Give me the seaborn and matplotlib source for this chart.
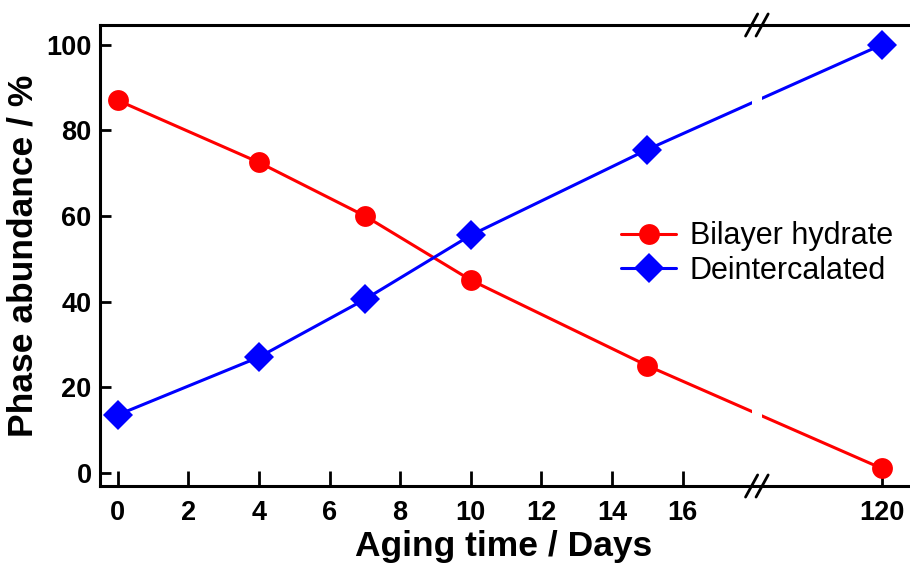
import numpy as np
import pandas as pd
import matplotlib
matplotlib.use("Agg")
import matplotlib.pyplot as plt
import seaborn as sns

# Aging time (days) and phase abundance (%)
days = [0, 4, 7, 10, 15, 120]
bilayer_hydrate = [87, 72.5, 60, 45, 25, 1]
deintercalated = [13.5, 27, 40.5, 55.5, 75.5, 100]
phases = ["Bilayer hydrate", "Deintercalated"]
x_ticks = [0, 2, 4, 6, 8, 10, 12, 14, 16, 120]
y_ticks = [0, 20, 40, 60, 80, 100]

df = pd.DataFrame({
    "day": days * 2,
    "abundance": bilayer_hydrate + deintercalated,
    "phase": [phases[0]] * len(days) + [phases[1]] * len(days),
})

sns.set_theme(style="ticks")
plt.rcParams["font.family"] = ["Liberation Sans", "DejaVu Sans"]
plt.rcParams["text.color"] = "black"
plt.rcParams["axes.labelcolor"] = "black"

# Broken x axis: everything between BREAK_AT and RESUME_AT is collapsed
BREAK_AT = 18.1
RESUME_AT = 116.46
SHIFT = RESUME_AT - BREAK_AT


def forward(x):
    x = np.asarray(x, dtype=float)
    return np.where(x <= BREAK_AT, x,
                    np.where(x >= RESUME_AT, x - SHIFT, BREAK_AT))


def inverse(t):
    t = np.asarray(t, dtype=float)
    return np.where(t <= BREAK_AT, t, t + SHIFT)


fig = plt.figure(figsize=(9.10, 5.71), dpi=100)
ax = fig.add_axes([100 / 910, 1 - 486 / 571, 808 / 910, (486 - 25) / 571])
ax.set_xscale("function", functions=(forward, inverse))

sns.lineplot(
    data=df, x="day", y="abundance", hue="phase", style="phase",
    hue_order=phases, style_order=phases,
    palette={phases[0]: "#ff0000", phases[1]: "#0000ff"},
    markers={phases[0]: "o", phases[1]: "D"}, dashes=False,
    markersize=15, linewidth=2.2, markeredgewidth=0,
    legend=False, ax=ax, zorder=3,
)
# enlarge the diamonds slightly
ax.lines[1].set_markersize(15.5)

ax.set_xlim(-0.5, 120.74)
ax.set_ylim(-3.1, 104.6)
ax.set_xticks(x_ticks)
ax.set_xticklabels([str(v) for v in x_ticks])
ax.set_yticks(y_ticks)
ax.minorticks_off()

for side in ("left", "bottom", "top"):
    ax.spines[side].set_linewidth(2.2)
    ax.spines[side].set_color("black")
ax.spines["right"].set_visible(False)

ax.tick_params(axis="x", direction="in", length=11, width=2, pad=10,
               labelsize=19.5, top=False, colors="black")
ax.tick_params(axis="y", direction="in", length=8, width=2, pad=6,
               labelsize=19.5, right=False, colors="black")
for lab in ax.get_xticklabels() + ax.get_yticklabels():
    lab.set_fontweight("bold")

ax.set_xlabel("Aging time / Days", fontsize=25.5, fontweight="bold", labelpad=3)
ax.set_ylabel("Phase abundance / %", fontsize=25.5, fontweight="bold", labelpad=5)

# Gap in the lines where the axis is broken
bx = (BREAK_AT + 0.5) / (forward(120.74) + 0.5)
gap = plt.Rectangle((bx - 0.0058, 0.02), 0.0116, 0.96, transform=ax.transAxes,
                    facecolor="white", edgecolor="none", zorder=4)
ax.add_patch(gap)

# Break marks "//" on top and bottom spines
dx, dy = 0.0075, 0.024
for yb in (0.0, 1.0):
    for off in (-0.0065, 0.0065):
        ax.plot([bx + off - dx, bx + off + dx], [yb - dy, yb + dy],
                transform=ax.transAxes, color="black", lw=2,
                clip_on=False, zorder=6)

leg = ax.legend(
    handles=ax.lines[:2], labels=phases, frameon=False, fontsize=22,
    loc="center left", bbox_to_anchor=(621 / 910, 1 - 253.5 / 571),
    bbox_transform=fig.transFigure, borderpad=0, borderaxespad=0,
    handlelength=1.8, handletextpad=0.45, labelspacing=0.15,
)

fig.savefig("out.png", dpi=100)
